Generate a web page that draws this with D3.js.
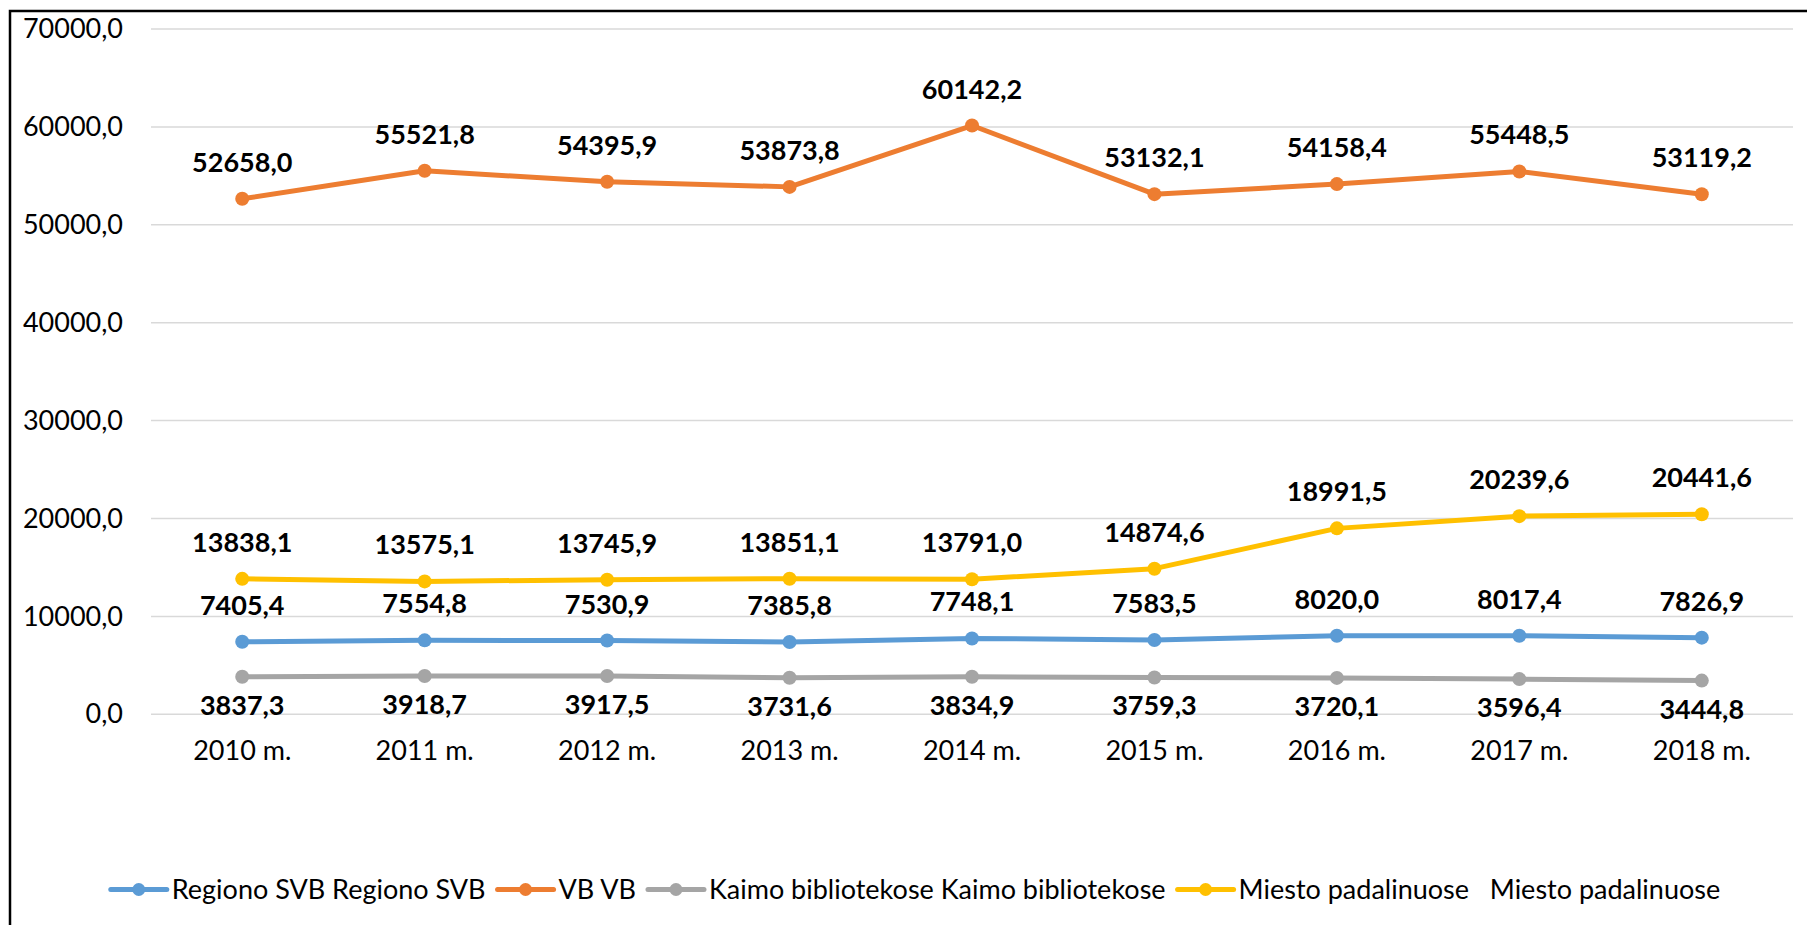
<!DOCTYPE html>
<html>
<head>
<meta charset="utf-8">
<script src="https://cdn.jsdelivr.net/npm/d3@7"></script>
<style>
  html, body { margin: 0; padding: 0; background: #fff; overflow: hidden; }
  svg { display: block; font-family: Lato, "Open Sans", sans-serif; }
</style>
</head>
<body>
<svg id="grafikas"></svg>
<script>
const metai = ['2010 m.', '2011 m.', '2012 m.', '2013 m.', '2014 m.', '2015 m.', '2016 m.', '2017 m.', '2018 m.'];
const regionoSVB = [7405.4, 7554.8, 7530.9, 7385.8, 7748.1, 7583.5, 8020.0, 8017.4, 7826.9];
const vb = [52658.0, 55521.8, 54395.9, 53873.8, 60142.2, 53132.1, 54158.4, 55448.5, 53119.2];
const kaimo = [3837.3, 3918.7, 3917.5, 3731.6, 3834.9, 3759.3, 3720.1, 3596.4, 3444.8];
const miesto = [13838.1, 13575.1, 13745.9, 13851.1, 13791.0, 14874.6, 18991.5, 20239.6, 20441.6];
const yTikai = [0, 10000, 20000, 30000, 40000, 50000, 60000, 70000];
const pavadinimai = ['Regiono SVB Regiono SVB', 'VB VB', 'Kaimo bibliotekose Kaimo bibliotekose', 'Miesto padalinuose   Miesto padalinuose'];

const W = 1807, H = 925;
const plotas = {left: 151, right: 1793, top: 29, bottom: 714.3};

// serijos: spalva ir etikečių vieta (virš / po tašku)
const serijos = [
    {vardas: pavadinimai[0], reiksmes: regionoSVB, spalva: '#5B9BD5', virsuje: true},
    {vardas: pavadinimai[1], reiksmes: vb, spalva: '#ED7D31', virsuje: true},
    {vardas: pavadinimai[2], reiksmes: kaimo, spalva: '#A5A5A5', virsuje: false},
    {vardas: pavadinimai[3], reiksmes: miesto, spalva: '#FFC000', virsuje: true}
];

const fmt = v => v.toFixed(1).replace('.', ',');

let svg = d3.select('#grafikas').attr('width', W).attr('height', H);

svg.append('rect').attr('width', W).attr('height', H).attr('fill', '#fff');

// rėmelis, dešinė ir apatinė kraštinės už vaizdo ribų
svg.append('rect')
    .attr('x', 10).attr('y', 11)
    .attr('width', W + 20).attr('height', H + 20)
    .attr('fill', 'none')
    .attr('stroke', '#000')
    .attr('stroke-width', 2.5);

let x = d3.scaleBand().domain(metai).range([plotas.left, plotas.right]);
let y = d3.scaleLinear().domain([0, 70000]).range([plotas.bottom, plotas.top]);
let cx = d => x(d) + x.bandwidth() / 2;

// tinklelis
svg.selectAll('.tinklas')
    .data(yTikai)
    .enter()
    .append('line')
    .attr('x1', plotas.left)
    .attr('x2', plotas.right)
    .attr('y1', d => y(d))
    .attr('y2', d => y(d))
    .style('stroke', '#D9D9D9')
    .style('stroke-width', 1.5);

// y ašies etiketės
let yAsis = d3.axisLeft(y).tickValues(yTikai).tickFormat(fmt).tickSize(0).tickPadding(28);
let yG = svg.append('g').attr('transform', `translate(${plotas.left},0)`).call(yAsis);
yG.select('.domain').remove();
yG.selectAll('text')
    .attr('font-family', 'Lato, sans-serif')
    .attr('font-size', 27)
    .attr('fill', '#000');

// x ašies etiketės
let xAsis = d3.axisBottom(x).tickSize(0).tickPadding(27);
let xG = svg.append('g').attr('transform', `translate(0,${plotas.bottom})`).call(xAsis);
xG.select('.domain').remove();
xG.selectAll('text')
    .attr('font-family', 'Lato, sans-serif')
    .attr('font-size', 27)
    .attr('fill', '#000');

let linija = d3.line()
    .x((d, i) => cx(metai[i]))
    .y(d => y(d));

serijos.forEach(s => {
    let g = svg.append('g');
    g.append('path')
        .datum(s.reiksmes)
        .attr('d', linija)
        .attr('fill', 'none')
        .attr('stroke', s.spalva)
        .attr('stroke-width', 5)
        .attr('stroke-linejoin', 'round')
        .attr('stroke-linecap', 'round');
    g.selectAll('circle')
        .data(s.reiksmes)
        .enter()
        .append('circle')
        .attr('cx', (d, i) => cx(metai[i]))
        .attr('cy', d => y(d))
        .attr('r', 7)
        .attr('fill', s.spalva);
    g.selectAll('text')
        .data(s.reiksmes)
        .enter()
        .append('text')
        .text(fmt)
        .attr('x', (d, i) => cx(metai[i]))
        .attr('y', d => s.virsuje ? y(d) - 27 : y(d) + 38)
        .attr('text-anchor', 'middle')
        .attr('font-size', 27)
        .attr('font-weight', 'bold')
        .attr('fill', '#000');
});

// legenda
let legenda = svg.append('g');
let poz = 0;
let zymesIlgis = 56;
serijos.forEach(s => {
    let item = legenda.append('g').attr('transform', `translate(${poz},0)`);
    item.append('line')
        .attr('x1', 0).attr('x2', zymesIlgis)
        .attr('y1', 0).attr('y2', 0)
        .attr('stroke', s.spalva)
        .attr('stroke-width', 5)
        .attr('stroke-linecap', 'round');
    item.append('circle')
        .attr('cx', zymesIlgis / 2).attr('cy', 0)
        .attr('r', 6.5)
        .attr('fill', s.spalva);
    let t = item.append('text')
        .attr('x', zymesIlgis + 5)
        .attr('y', 9.5)
        .attr('font-size', 27)
        .style('white-space', 'pre')
        .attr('fill', '#000')
        .text(s.vardas);
    poz += zymesIlgis + 5 + t.node().getComputedTextLength() + 12;
});
poz -= 12;
legenda.attr('transform', `translate(${915.5 - poz / 2},889.5)`);
</script>
</body>
</html>
